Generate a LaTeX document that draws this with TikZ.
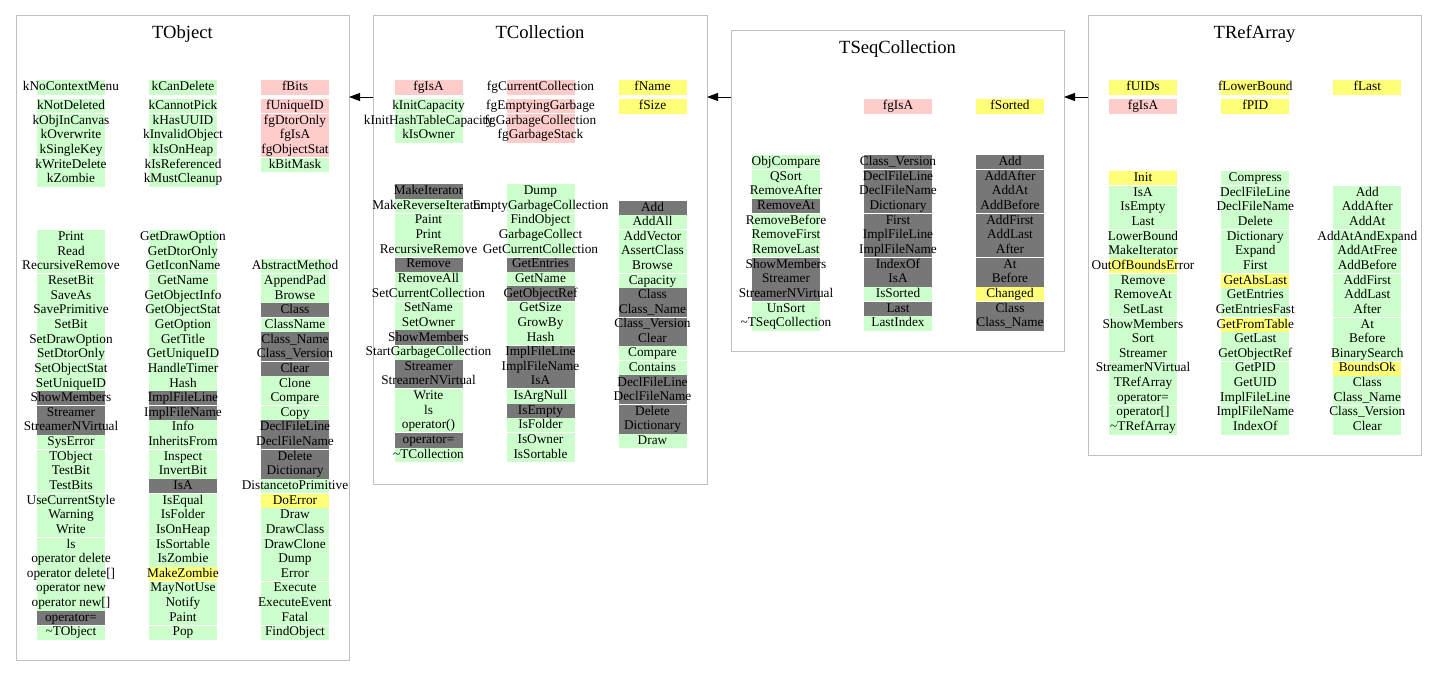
\documentclass[tikz,border=0pt]{standalone}
\usepackage{fontspec}
\setmainfont{Liberation Serif}
\usetikzlibrary{arrows.meta,calc}
\definecolor{cg}{HTML}{CCFFCC}
\definecolor{cp}{HTML}{FFCCCC}
\definecolor{cy}{HTML}{FFFF77}
\definecolor{cd}{HTML}{777777}
\definecolor{framegray}{HTML}{C0C0C0}
\tikzset{
  cellbox/.style={rectangle, inner sep=0pt, outer sep=0pt, minimum width=68pt, draw=none},
  celltext/.style={anchor=base, inner sep=0pt, font=\fontsize{13.3}{14.6}\selectfont},
  sepline/.style={white, line width=1pt},
  classframe/.style={rectangle, draw=framegray, line width=1pt, inner sep=0pt, outer sep=0pt, anchor=north west},
  classtitle/.style={anchor=base, inner sep=0pt, font=\fontsize{18.6}{20}\selectfont},
  inherit/.style={black, line width=0.9pt, -{Triangle[length=11pt,width=8pt]}}
}
% #1 prefix, #2 x centre, #3 top y, #4 pitch, #5 separator phase, #6 list
\newcommand\cellcol[6]{%
  \foreach \clr/\lab [count=\i from 0] in {#6} {%
    \pgfmathsetmacro\ytop{#3+\i*#4}%
    \node[cellbox, fill=c\clr, minimum height=#4 pt] (#1-\i-bg) at (#2, \ytop+#4/2) {};%
    \pgfmathtruncatemacro\mm{mod(\i+30-#5,3)}%
    \ifnum\i>0 \ifnum\mm=0 \draw[sepline] (#2-34,\ytop) -- (#2+34,\ytop);\fi\fi
    \node[celltext] (#1-\i) at (#2, \ytop+10.6) {\lab};%
  }}
\begin{document}
\begin{tikzpicture}[x=1pt,y=-1pt]
\useasboundingbox (0,0) rectangle (1437,687);
\fill[white] (0,0) rectangle (1437,687);

% frames
\node[classframe, minimum width=333pt, minimum height=644pt] (TObject) at (16,16) {};
\node[classframe, minimum width=334pt, minimum height=468pt] (TCollection) at (373,16) {};
\node[classframe, minimum width=333pt, minimum height=320pt] (TSeqCollection) at (731,31) {};
\node[classframe, minimum width=333pt, minimum height=439pt] (TRefArray) at (1088,16) {};

% titles
\node[classtitle] (TObject-title) at (182.5,39) {TObject};
\node[classtitle] (TCollection-title) at (540,39) {TCollection};
\node[classtitle] (TSeqCollection-title) at (897.5,54) {TSeqCollection};
\node[classtitle] (TRefArray-title) at (1254.5,39) {TRefArray};

% ---------------- TObject ----------------
\cellcol{ob-a0}{71}{80}{14.64}{1}{g/kNoContextMenu}
\cellcol{ob-b0}{183}{80}{14.64}{1}{g/kCanDelete}
\cellcol{ob-c0}{295}{80}{14.64}{1}{p/fBits}
\cellcol{ob-a1}{71}{99}{14.64}{1}{g/kNotDeleted, g/kObjInCanvas, g/kOverwrite, g/kSingleKey, g/kWriteDelete, g/kZombie}
\cellcol{ob-b1}{183}{99}{14.64}{1}{g/kCannotPick, g/kHasUUID, g/kInvalidObject, g/kIsOnHeap, g/kIsReferenced, g/kMustCleanup}
\cellcol{ob-c1}{295}{99}{14.64}{1}{p/fUniqueID, p/fgDtorOnly, p/fgIsA, p/fgObjectStat, g/kBitMask}
\cellcol{ob-a2}{71}{230}{14.64}{0}{g/Print, g/Read, g/RecursiveRemove, g/ResetBit, g/SaveAs, g/SavePrimitive, g/SetBit, g/SetDrawOption, g/SetDtorOnly, g/SetObjectStat, g/SetUniqueID, d/ShowMembers, d/Streamer, d/StreamerNVirtual, g/SysError, g/TObject, g/TestBit, g/TestBits, g/UseCurrentStyle, g/Warning, g/Write, g/ls, g/operator delete, g/operator delete[], g/operator new, g/operator new[], d/operator=, g/\textasciitilde TObject}
\cellcol{ob-b2}{183}{230}{14.64}{0}{g/GetDrawOption, g/GetDtorOnly, g/GetIconName, g/GetName, g/GetObjectInfo, g/GetObjectStat, g/GetOption, g/GetTitle, g/GetUniqueID, g/HandleTimer, g/Hash, d/ImplFileLine, d/ImplFileName, g/Info, g/InheritsFrom, g/Inspect, g/InvertBit, d/IsA, g/IsEqual, g/IsFolder, g/IsOnHeap, g/IsSortable, g/IsZombie, y/MakeZombie, g/MayNotUse, g/Notify, g/Paint, g/Pop}
\cellcol{ob-c2}{295}{259.28}{14.64}{1}{g/AbstractMethod, g/AppendPad, g/Browse, d/Class, g/ClassName, d/Class\_Name, d/Class\_Version, d/Clear, g/Clone, g/Compare, g/Copy, d/DeclFileLine, d/DeclFileName, d/Delete, d/Dictionary, g/DistancetoPrimitive, y/DoError, g/Draw, g/DrawClass, g/DrawClone, g/Dump, g/Error, g/Execute, g/ExecuteEvent, g/Fatal, g/FindObject}

% ---------------- TCollection ----------------
\cellcol{co-a0}{428.5}{80}{14.64}{1}{p/fgIsA}
\cellcol{co-b0}{540.5}{80}{14.64}{1}{p/fgCurrentCollection}
\cellcol{co-c0}{652.5}{80}{14.64}{1}{y/fName}
\cellcol{co-a1}{428.5}{99}{14.64}{1}{g/kInitCapacity, g/kInitHashTableCapacity, g/kIsOwner}
\cellcol{co-b1}{540.5}{99}{14.64}{1}{p/fgEmptyingGarbage, p/fgGarbageCollection, p/fgGarbageStack}
\cellcol{co-c1}{652.5}{99}{14.64}{1}{y/fSize}
\cellcol{co-a2}{428.5}{184}{14.64}{2}{d/MakeIterator, g/MakeReverseIterator, g/Paint, g/Print, g/RecursiveRemove, d/Remove, g/RemoveAll, g/SetCurrentCollection, g/SetName, g/SetOwner, d/ShowMembers, g/StartGarbageCollection, d/Streamer, d/StreamerNVirtual, g/Write, g/ls, g/operator(), d/operator=, g/\textasciitilde TCollection}
\cellcol{co-b2}{540.5}{184}{14.64}{2}{g/Dump, g/EmptyGarbageCollection, g/FindObject, g/GarbageCollect, g/GetCurrentCollection, d/GetEntries, g/GetName, d/GetObjectRef, g/GetSize, g/GrowBy, g/Hash, d/ImplFileLine, d/ImplFileName, d/IsA, g/IsArgNull, d/IsEmpty, g/IsFolder, g/IsOwner, g/IsSortable}
\cellcol{co-c2}{652.5}{200.7}{14.56}{2}{d/Add, g/AddAll, g/AddVector, g/AssertClass, g/Browse, g/Capacity, d/Class, d/Class\_Name, d/Class\_Version, d/Clear, g/Compare, g/Contains, d/DeclFileLine, d/DeclFileName, d/Delete, d/Dictionary, g/Draw}

% ---------------- TSeqCollection ----------------
\cellcol{sq-b1}{898}{99}{14.64}{1}{p/fgIsA}
\cellcol{sq-c1}{1010}{99}{14.64}{1}{y/fSorted}
\cellcol{sq-a2}{786}{155}{14.64}{1}{g/ObjCompare, g/QSort, g/RemoveAfter, d/RemoveAt, g/RemoveBefore, g/RemoveFirst, g/RemoveLast, d/ShowMembers, d/Streamer, d/StreamerNVirtual, g/UnSort, g/\textasciitilde TSeqCollection}
\cellcol{sq-b2}{898}{155}{14.64}{1}{d/Class\_Version, d/DeclFileLine, d/DeclFileName, d/Dictionary, d/First, d/ImplFileLine, d/ImplFileName, d/IndexOf, d/IsA, g/IsSorted, d/Last, g/LastIndex}
\cellcol{sq-c2}{1010}{155}{14.64}{1}{d/Add, d/AddAfter, d/AddAt, d/AddBefore, d/AddFirst, d/AddLast, d/After, d/At, d/Before, y/Changed, d/Class, d/Class\_Name}

% ---------------- TRefArray ----------------
\cellcol{ra-a0}{1143}{80}{14.64}{1}{y/fUIDs}
\cellcol{ra-b0}{1255.3}{80}{14.64}{1}{y/fLowerBound}
\cellcol{ra-c0}{1367.3}{80}{14.64}{1}{y/fLast}
\cellcol{ra-a1}{1143}{99}{14.64}{1}{p/fgIsA}
\cellcol{ra-b1}{1255.3}{99}{14.64}{1}{y/fPID}
\cellcol{ra-a2}{1143}{171}{14.64}{1}{y/Init, g/IsA, g/IsEmpty, g/Last, g/LowerBound, g/MakeIterator, y/OutOfBoundsError, g/Remove, g/RemoveAt, g/SetLast, g/ShowMembers, g/Sort, g/Streamer, g/StreamerNVirtual, g/TRefArray, g/operator=, g/operator[], g/\textasciitilde TRefArray}
\cellcol{ra-b2}{1255.3}{171}{14.64}{1}{g/Compress, g/DeclFileLine, g/DeclFileName, g/Delete, g/Dictionary, g/Expand, g/First, y/GetAbsLast, g/GetEntries, g/GetEntriesFast, y/GetFromTable, g/GetLast, g/GetObjectRef, g/GetPID, g/GetUID, g/ImplFileLine, g/ImplFileName, g/IndexOf}
\cellcol{ra-c2}{1367.3}{185.64}{14.64}{0}{g/Add, g/AddAfter, g/AddAt, g/AddAtAndExpand, g/AddAtFree, g/AddBefore, g/AddFirst, g/AddLast, g/After, g/At, g/Before, g/BinarySearch, y/BoundsOk, g/Class, g/Class\_Name, g/Class\_Version, g/Clear}

% inheritance arrows
\draw[inherit] ($(TCollection.north west)+(0,81)$) -- ($(TObject.north east)+(0,81)$);
\draw[inherit] ($(TSeqCollection.north west)+(0,66)$) -- ($(TCollection.north east)+(0,81)$);
\draw[inherit] ($(TRefArray.north west)+(0,81)$) -- ($(TSeqCollection.north east)+(0,66)$);
\end{tikzpicture}
\end{document}
